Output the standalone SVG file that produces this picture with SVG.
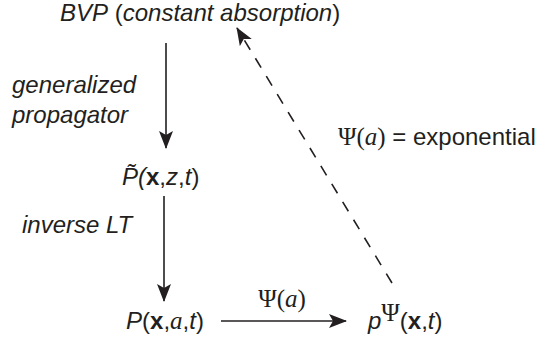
<svg xmlns="http://www.w3.org/2000/svg" width="539" height="341" viewBox="0 0 539 341">
<style>
.s{font-family:"Liberation Sans",Arial,sans-serif;font-size:24px;fill:#231f20}
.m{font-family:"Liberation Serif","Times New Roman",serif;font-size:25px;fill:#231f20}
.i{font-style:italic}
.b{font-weight:bold}
.ln{stroke:#231f20;stroke-width:1.6;fill:none}
.d{stroke:#231f20;stroke-width:1.6;fill:none;stroke-dasharray:11 10}
</style>
<defs>
<marker id="ah" viewBox="0 0 18 14" refX="17" refY="7" markerWidth="18" markerHeight="14" markerUnits="userSpaceOnUse" orient="auto">
<path d="M0,0 L18,7 L0,14 L4,7 Z" fill="#231f20"/>
</marker>
</defs>
<g id="connectors">
<line class="ln" x1="166" y1="43" x2="166" y2="148" marker-end="url(#ah)"/>
<line class="ln" x1="164" y1="196" x2="164" y2="301" marker-end="url(#ah)"/>
<line class="ln" x1="221" y1="321" x2="346" y2="321" marker-end="url(#ah)"/>
<line class="d" x1="392" y1="283" x2="237" y2="28" marker-end="url(#ah)"/>
</g>
<g id="bvp"><text class="s" x="60" y="21"><tspan class="i">BVP</tspan> (<tspan class="i">constant absorption</tspan>)</text></g>
<g id="label-gp"><text class="s i" x="12" y="93">generalized</text><text class="s i" x="12" y="123">propagator</text></g>
<g id="ptilde"><text class="s" x="122" y="185"><tspan class="i">P&#x303;(</tspan><tspan class="b">x</tspan>,<tspan class="i">z</tspan>,<tspan class="i">t</tspan>)</text></g>
<g id="label-ilt"><text class="s i" x="22" y="233">inverse LT</text></g>
<g id="pxat"><text class="s" x="126" y="329"><tspan class="i">P</tspan>(<tspan class="b">x</tspan>,<tspan class="m i">a</tspan>,<tspan class="i">t</tspan>)</text></g>
<g id="label-psi"><text class="m" x="282" y="307" text-anchor="middle">Ψ(<tspan class="i">a</tspan>)</text></g>
<g id="ppsi"><text class="s" x="368" y="329"><tspan class="i">p</tspan><tspan class="m" font-size="17" dy="-8">Ψ</tspan><tspan dy="8">(</tspan><tspan class="b">x</tspan>,<tspan class="i">t</tspan>)</text></g>
<g id="label-exp"><text class="s" x="338" y="145"><tspan class="m">Ψ(<tspan class="i">a</tspan>)</tspan> = exponential</text></g>
</svg>
